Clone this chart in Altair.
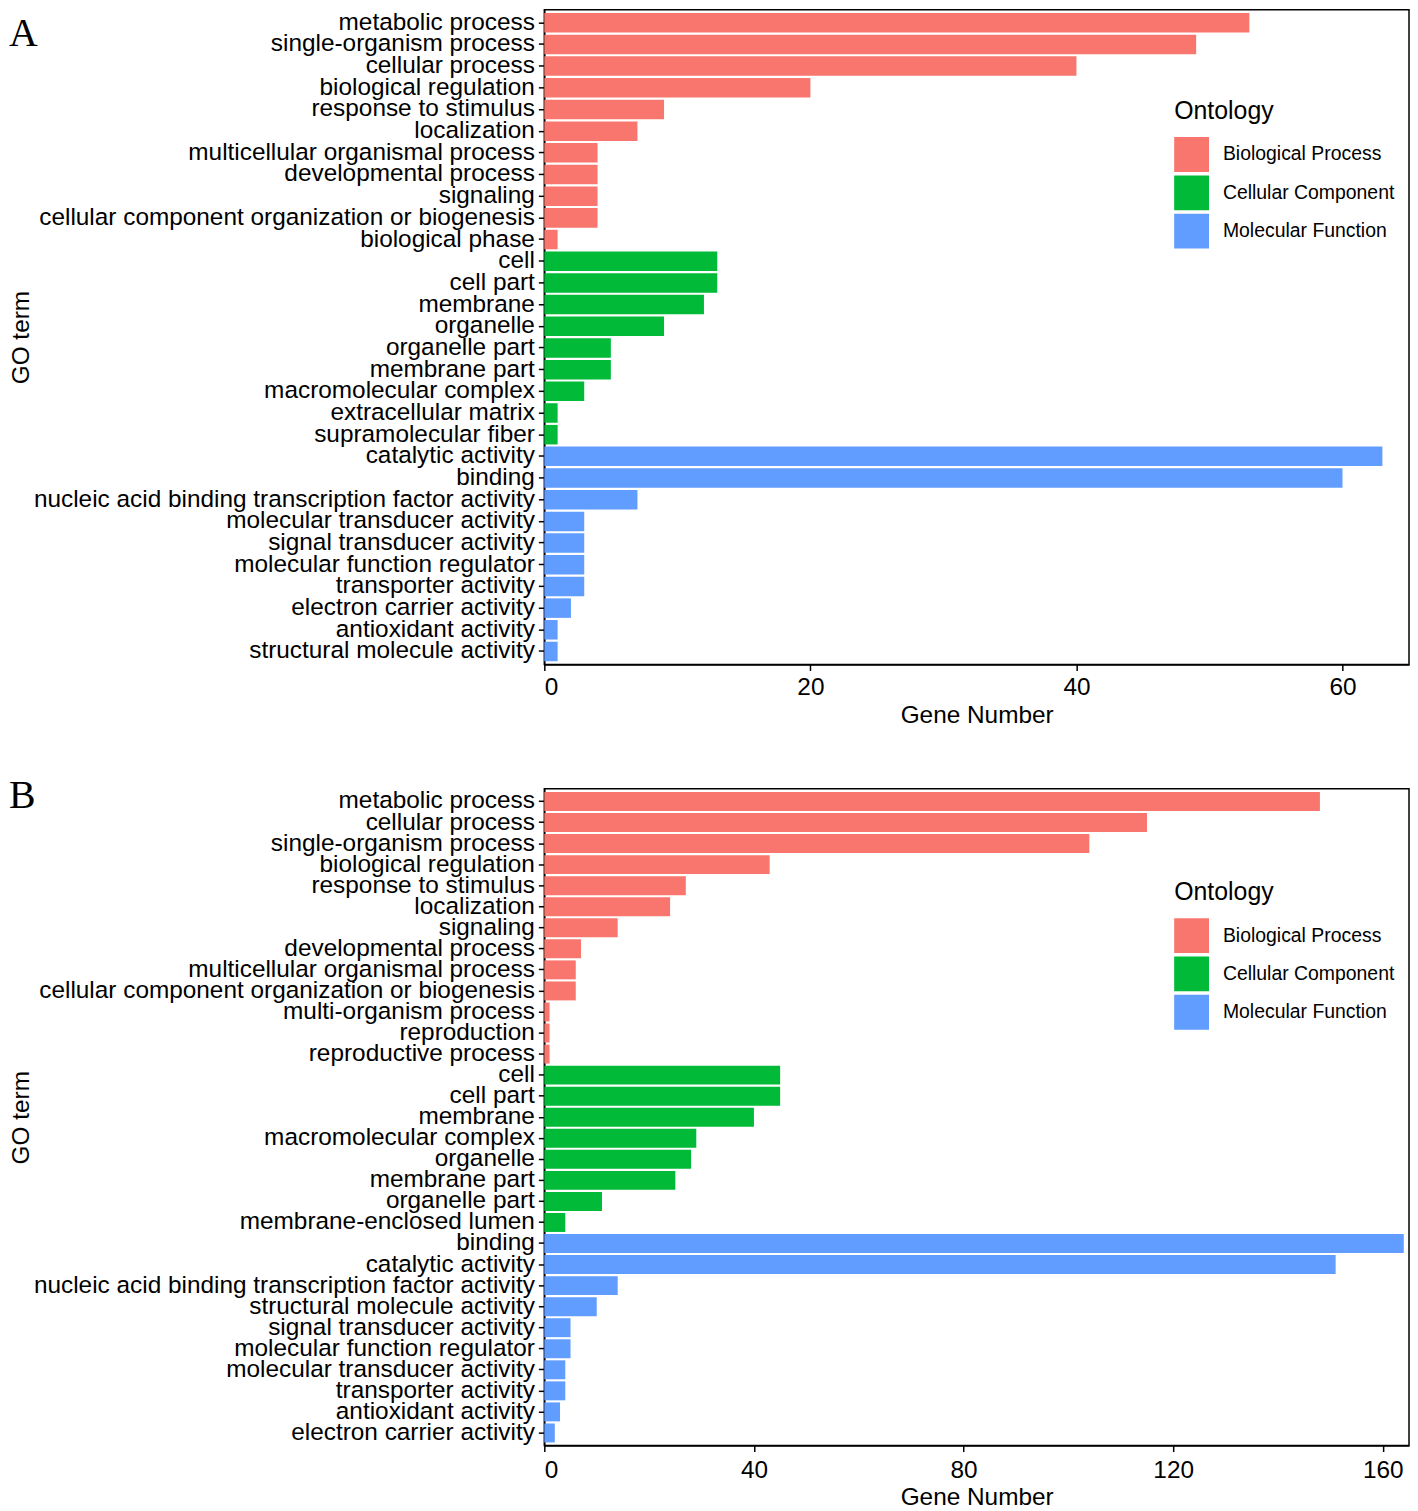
import altair as alt
import pandas as pd

ontology_names = ["Biological Process", "Cellular Component", "Molecular Function"]
ontology_colors = ["#F8766D", "#00BA38", "#619CFF"]

# ---- Panel A ----
a_bp_terms = ["metabolic process", "single-organism process", "cellular process",
              "biological regulation", "response to stimulus", "localization",
              "multicellular organismal process", "developmental process", "signaling",
              "cellular component organization or biogenesis", "biological phase"]
a_bp_counts = [53, 49, 40, 20, 9, 7, 4, 4, 4, 4, 1]
a_cc_terms = ["cell", "cell part", "membrane", "organelle", "organelle part",
              "membrane part", "macromolecular complex", "extracellular matrix",
              "supramolecular fiber"]
a_cc_counts = [13, 13, 12, 9, 5, 5, 3, 1, 1]
a_mf_terms = ["catalytic activity", "binding",
              "nucleic acid binding transcription factor activity",
              "molecular transducer activity", "signal transducer activity",
              "molecular function regulator", "transporter activity",
              "electron carrier activity", "antioxidant activity",
              "structural molecule activity"]
a_mf_counts = [63, 60, 7, 3, 3, 3, 3, 2, 1, 1]

# ---- Panel B ----
b_bp_terms = ["metabolic process", "cellular process", "single-organism process",
              "biological regulation", "response to stimulus", "localization",
              "signaling", "developmental process", "multicellular organismal process",
              "cellular component organization or biogenesis", "multi-organism process",
              "reproduction", "reproductive process"]
b_bp_counts = [148, 115, 104, 43, 27, 24, 14, 7, 6, 6, 1, 1, 1]
b_cc_terms = ["cell", "cell part", "membrane", "macromolecular complex", "organelle",
              "membrane part", "organelle part", "membrane-enclosed lumen"]
b_cc_counts = [45, 45, 40, 29, 28, 25, 11, 4]
b_mf_terms = ["binding", "catalytic activity",
              "nucleic acid binding transcription factor activity",
              "structural molecule activity", "signal transducer activity",
              "molecular function regulator", "molecular transducer activity",
              "transporter activity", "antioxidant activity", "electron carrier activity"]
b_mf_counts = [164, 151, 14, 10, 5, 5, 4, 4, 3, 2]

a_ticks = [0, 20, 40, 60]
b_ticks = [0, 40, 80, 120, 160]

FONT = "Liberation Sans"
PLOT_W = 869


def make_df(groups):
    rows = []
    for name, terms, counts in groups:
        for t, c in zip(terms, counts):
            rows.append({"term": t, "count": c, "ontology": name})
    return pd.DataFrame(rows)


df_a = make_df([(ontology_names[0], a_bp_terms, a_bp_counts),
                (ontology_names[1], a_cc_terms, a_cc_counts),
                (ontology_names[2], a_mf_terms, a_mf_counts)])
df_b = make_df([(ontology_names[0], b_bp_terms, b_bp_counts),
                (ontology_names[1], b_cc_terms, b_cc_counts),
                (ontology_names[2], b_mf_terms, b_mf_counts)])


def panel(df, letter, xmax, ticks, height, letter_y, label_pad, title_pad, legend_y):
    order = list(df["term"])
    bars = alt.Chart(df).mark_bar().encode(
        x=alt.X("count:Q", title="Gene Number",
                scale=alt.Scale(domain=[0, xmax], nice=False, zero=True),
                axis=alt.Axis(values=ticks, format="d", labelPadding=label_pad,
                              titlePadding=title_pad)),
        y=alt.Y("term:N", sort=order, title="GO term",
                scale=alt.Scale(paddingInner=0.1, paddingOuter=0.15),
                axis=alt.Axis(titleX=-525, titleY=height / 2, titleAngle=270,
                              titleAlign="center", titleBaseline="middle")),
        color=alt.Color("ontology:N",
                        scale=alt.Scale(domain=ontology_names, range=ontology_colors),
                        legend=alt.Legend(title="Ontology", orient="none",
                                          legendX=633, legendY=legend_y,
                                          titleFontSize=25, titleFontWeight="normal",
                                          titleColor="black", titleFont=FONT,
                                          titlePadding=13,
                                          labelFontSize=19.5, labelColor="black",
                                          labelFont=FONT, labelLimit=400,
                                          symbolType="square", symbolSize=1225,
                                          symbolStrokeWidth=0, symbolOpacity=1,
                                          rowPadding=3.5, labelOffset=14)),
    )
    letter_layer = alt.Chart(alt.Data(values=[{"t": letter}])).mark_text(
        font="Liberation Serif", fontSize=40, align="left", baseline="top",
        color="black"
    ).encode(text="t:N", x=alt.value(-538), y=alt.value(letter_y))
    return alt.layer(bars, letter_layer).properties(width=PLOT_W, height=height)


pa = panel(df_a, "A", 65, a_ticks, 658, 4, 5, 5, 90)
pb = panel(df_b, "B", 165, b_ticks, 660, -13, 7, 4, 92)

chart = alt.vconcat(pa, pb, spacing=47).resolve_scale(
    x="independent", y="independent", color="independent"
).resolve_legend(color="independent").properties(
    padding={"left": 0, "top": -4, "right": 0, "bottom": 0}
).configure_axis(
    grid=False, labelFont=FONT, titleFont=FONT,
    labelFontSize=24.5, titleFontSize=24.5, labelColor="black", titleColor="black",
    titleFontWeight="normal", tickColor="black", tickSize=6, tickWidth=1.5,
    domainColor="black", domainWidth=1.5, labelLimit=800
).configure_axisY(
    labelPadding=4
).configure_view(
    stroke="black", strokeWidth=1.5
)

chart.save("out.html", embed_options={"renderer": "svg", "actions": False})
